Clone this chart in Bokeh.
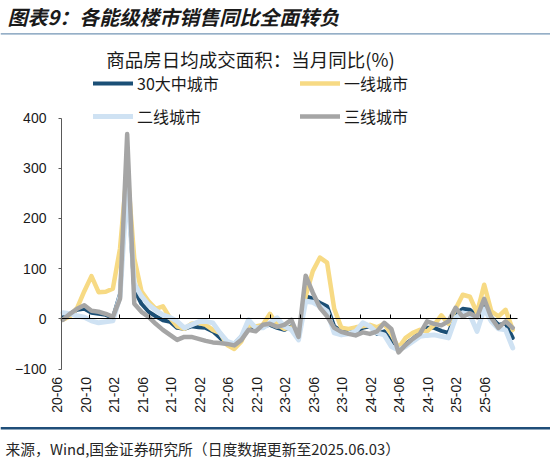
import math
from bokeh.plotting import figure
from bokeh.models import (Range1d, FixedTicker, LinearAxis, Legend, LegendItem, Label,
                          BoxAnnotation, CustomJSTickFormatter)
from bokeh.embed import file_html
from bokeh.resources import INLINE

# ---------------- data ----------------
x_labels = ["20-06", "20-10", "21-02", "21-06", "21-10", "22-02", "22-06", "22-10",
            "23-02", "23-06", "23-10", "24-02", "24-06", "24-10", "25-02", "25-06"]
y_ticks = [-100, 0, 100, 200, 300, 400]

city30 = [3, 10, 18, 20, 12, 10, 8, 2, 50, 280,
          58, 30, 14, 5, -3, -6, -18, -20, -15, -17,
          -18, -25, -38, -50, -50, -35, -10, -22, -15, -12,
          -18, -22, -15, -32, 45, 40, 32, 25, -15, -24,
          -22, -27, -18, -15, -30, -25, -45, -62, -50, -40,
          -27, -18, -18, -24, -28, 10, 20, 18, 5, 28,
          3, -12, -9, -38]
tier1 = [-2, 5, 22, 55, 85, 53, 54, 60, 140, 302,
         120, 55, 35, 20, 25, 2, -15, -20, -10, -8,
         -12, -22, -28, -52, -60, -45, -12, -15, -12, 10,
         -12, -20, -17, -35, 45, 95, 122, 112, 20, -18,
         -20, -17, -15, -12, -17, -10, -30, -58, -38, -28,
         -22, -25, -12, 7, -10, 20, 48, 44, 12, 68,
         15, 5, 18, -22]
tier2 = [12, 10, 6, 3, -4, -8, -6, -4, 45, 268,
         70, 45, 28, 17, 8, 3, -5, -18, -12, -6,
         -5, -8, -28, -45, -50, -35, -2, -18, -18, -8,
         2, -15, -22, -42, 35, 33, 25, 15, -28, -32,
         -30, -25, -8, -15, -28, -32, -55, -62, -55, -45,
         -35, -33, -32, -35, -38, 2, 12, 8, -25, 20,
         -5, -20, -22, -58]
tier3 = [-2, 10, 20, 27, 16, 14, 10, 4, 40, 368,
         30, 14, 4, -10, -22, -32, -42, -36, -36, -40,
         -44, -47, -48, -50, -53, -42, -22, -25, -12, -10,
         -16, -12, -2, -36, 86, 52, 22, 5, -18, -26,
         -30, -33, -27, -30, -25, -8, -20, -67, -52, -40,
         -30, -5, -10, -13, -5, 22, 4, 11, 3, 40,
         2, -18, -5, -18]
idx = list(range(len(city30)))

names = ["30大中城市", "一线城市", "二线城市", "三线城市"]
colors = ["#1B4F76", "#F7DA84", "#CFE2F3", "#A5A5A5"]
widths = [4, 4.5, 5, 4.5]

FONT_CJK = "Noto Sans CJK SC"
FONT_NUM = "Liberation Sans"

W, H = 550, 465
# plot-area extent in data units (the frame spans the whole figure)
X0, X1 = -0.2, 63.7

p = figure(width=W, height=H, output_backend="svg", toolbar_location=None,
           x_range=Range1d(-8.739, 68.29), y_range=Range1d(-292.2, 634.1),
           x_axis_type=None, y_axis_type=None,
           min_border_left=0, min_border_right=0, min_border_top=0, min_border_bottom=0)
p.outline_line_color = None
p.xgrid.visible = False
p.ygrid.visible = False
p.background_fill_color = "white"
p.border_fill_color = "white"

p.extra_x_ranges = {"lab": Range1d(-1.989, 17.309), "tk": Range1d(-1.965, 16.325)}

# y axis
yax = LinearAxis(ticker=FixedTicker(ticks=y_ticks), fixed_location=X0,
                 bounds=(y_ticks[0], y_ticks[-1]))
yax.axis_line_color = "#595959"
yax.major_tick_line_color = "#595959"
yax.major_tick_out = 3
yax.major_tick_in = 0
yax.minor_tick_line_color = None
yax.major_label_standoff = 12
yax.major_label_text_font = FONT_NUM
yax.major_label_text_font_size = "14px"
yax.major_label_text_color = "#1a1a1a"
p.add_layout(yax, "left")

# x label axis (under the plot area)
xax = LinearAxis(x_range_name="lab", ticker=FixedTicker(ticks=list(range(len(x_labels)))),
                 major_label_overrides={i: s for i, s in enumerate(x_labels)},
                 fixed_location=y_ticks[0])
xax.axis_line_color = None
xax.major_tick_line_color = None
xax.major_tick_out = 0
xax.major_tick_in = 0
xax.minor_tick_line_color = None
xax.major_label_orientation = math.pi / 2
xax.major_label_standoff = 8
xax.major_label_text_font = FONT_NUM
xax.major_label_text_font_size = "14px"
xax.major_label_text_color = "#1a1a1a"
p.add_layout(xax, "below")

# zero line with small ticks
zax = LinearAxis(x_range_name="tk", ticker=FixedTicker(ticks=list(range(1, 16))),
                 fixed_location=0, bounds=(0.063, 15.23),
                 formatter=CustomJSTickFormatter(code="return ''"))
zax.axis_line_color = "#000000"
zax.axis_line_width = 1
zax.major_tick_line_color = "#000000"
zax.major_tick_in = 4
zax.major_tick_out = 0
zax.minor_tick_line_color = None
zax.major_label_text_font_size = "1px"
p.add_layout(zax, "below")

rs = []
for ys, c, w in zip([city30, tier1, tier2, tier3], colors, widths):
    r = p.line(idx, ys, line_color=c, line_width=w, line_join="round", line_cap="round")
    rs.append(r)

leg_common = dict(orientation="vertical", glyph_width=40, glyph_height=20, label_height=20,
                  label_standoff=4, spacing=9, padding=0, margin=0,
                  border_line_color=None, background_fill_alpha=0,
                  label_text_font=FONT_CJK, label_text_font_size="16px",
                  label_text_color="#1a1a1a")
leg1 = Legend(items=[LegendItem(label=names[0], renderers=[rs[0]]),
                     LegendItem(label=names[2], renderers=[rs[2]])],
              location=(93, 337), **leg_common)
leg2 = Legend(items=[LegendItem(label=names[1], renderers=[rs[1]]),
                     LegendItem(label=names[3], renderers=[rs[3]])],
              location=(300, 337), **leg_common)
p.add_layout(leg1, "center")
p.add_layout(leg2, "center")

p.add_layout(Label(x=7, y=449, x_units="screen", y_units="screen",
                   text="图表9：各能级楼市销售同比全面转负", text_font=FONT_CJK,
                   text_font_size="20px", text_font_style="bold italic",
                   text_color="#1a1a1a", text_align="left", text_baseline="middle"))
p.add_layout(Label(x=250, y=407, x_units="screen", y_units="screen",
                   text="商品房日均成交面积：当月同比(%)", text_font=FONT_CJK,
                   text_font_size="18.5px", text_color="#1a1a1a",
                   text_align="center", text_baseline="middle"))
p.add_layout(Label(x=5, y=17.5, x_units="screen", y_units="screen",
                   text="来源，Wind,国金证券研究所（日度数据更新至2025.06.03）",
                   text_font=FONT_CJK, text_font_size="14.8px", text_color="#262626",
                   text_align="left", text_baseline="middle"))

p.add_layout(BoxAnnotation(left=0, right=W, top=432.3, bottom=431.0,
                           left_units="screen", right_units="screen",
                           top_units="screen", bottom_units="screen",
                           fill_color="#7395B5", fill_alpha=1, line_color=None))
p.add_layout(BoxAnnotation(left=0, right=W, top=38.5, bottom=36.0,
                           left_units="screen", right_units="screen",
                           top_units="screen", bottom_units="screen",
                           fill_color="#1F4E79", fill_alpha=1, line_color=None))

open("out.html", "w").write(file_html(p, INLINE))
